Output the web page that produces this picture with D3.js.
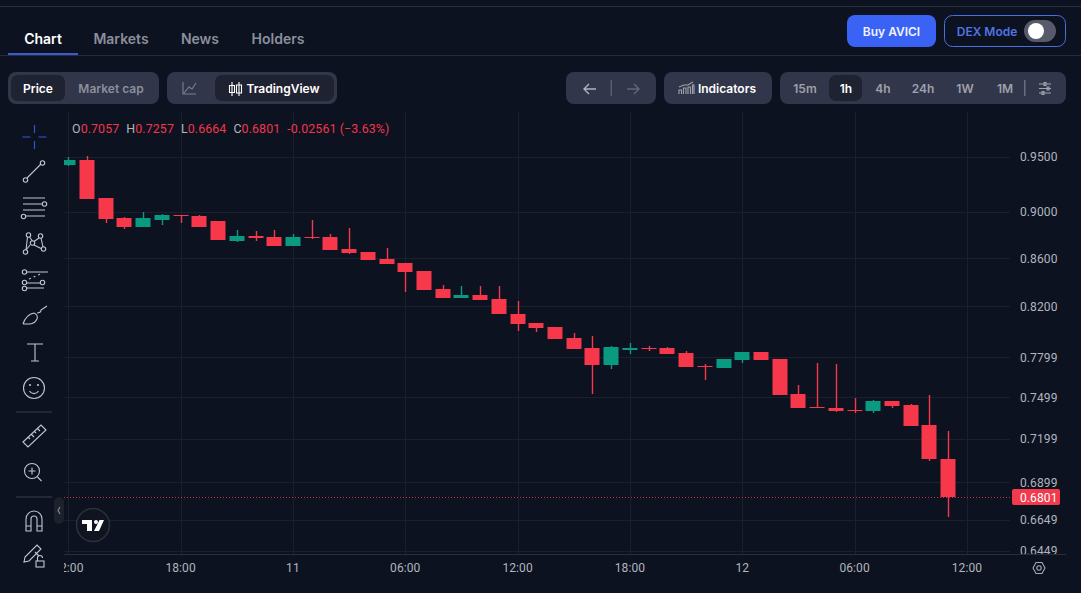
<!DOCTYPE html>
<html><head><meta charset="utf-8">
<script src="https://cdn.jsdelivr.net/npm/d3@7/dist/d3.min.js"></script>
<style>
html,body{margin:0;padding:0;background:#0c1220;overflow:hidden}
svg{display:block}
text{font-family:Inter,"Noto Sans",sans-serif}
.ax{font-family:Roboto,"Liberation Sans",sans-serif;font-size:12px;fill:#b2b5be;letter-spacing:.1px}
.ic{fill:none;stroke:#c3c6cf;stroke-width:1.1}
</style></head><body>
<svg id="c" width="1081" height="593"></svg>
<script>
const hours=d3.range(48);
const opens=[.9426,.9472,.9125,.8947,.8868,.8929,.8973,.8964,.8920,.8747,.8790,.8781,.8704,.8781,.8781,.8678,.8653,.8594,.8560,.8493,.8344,.8271,.8296,.8263,.8143,.8071,.8038,.7952,.7874,.7744,.7858,.7874,.7874,.7835,.7736,.7721,.7782,.7843,.7789,.7526,.7431,.7424,.7409,.7402,.7475,.7446,.7301,.7057];
const highs=[.9497,.9512,.9125,.8955,.8994,.8982,.8973,.8973,.8920,.8842,.8833,.8842,.8807,.8929,.8807,.8859,.8653,.8687,.8560,.8493,.8377,.8369,.8369,.8369,.8247,.8071,.8038,.7990,.7967,.7889,.7913,.7889,.7882,.7851,.7751,.7789,.7843,.7843,.7789,.7593,.7759,.7751,.7497,.7482,.7475,.7453,.7519,.7257];
const lows=[.9416,.9116,.8903,.8850,.8868,.8885,.8903,.8868,.8755,.8738,.8747,.8704,.8704,.8764,.8670,.8636,.8585,.8552,.8320,.8336,.8271,.8271,.8255,.8143,.8006,.7998,.7944,.7866,.7526,.7713,.7828,.7851,.7828,.7729,.7630,.7721,.7759,.7782,.7519,.7424,.7424,.7395,.7388,.7388,.7424,.7294,.7043,.6664];
const closes=[.9472,.9116,.8938,.8868,.8947,.8973,.8964,.8868,.8755,.8790,.8772,.8704,.8781,.8772,.8670,.8644,.8585,.8552,.8485,.8336,.8271,.8296,.8255,.8143,.8061,.8030,.7944,.7866,.7744,.7882,.7874,.7866,.7828,.7729,.7729,.7789,.7843,.7782,.7519,.7424,.7424,.7402,.7402,.7475,.7439,.7294,.7057,.6801];
const priceTicks=[.95,.9,.86,.82,.7799,.7499,.7199,.6899,.6649,.6449];
const timeTicks=[0,6,12,18,24,30,36,42,48];
const timeLabels=["12:00","18:00","11","06:00","12:00","18:00","12","06:00","12:00"];
const tabs=["Chart","Markets","News","Holders"];
const tabX=[43,121,200,278];
const ranges=["15m","1h","4h","24h","1W","1M"];
const rangeX=[805,846,883,923,965,1005];

const RED="#f6384a",GREEN="#0a9a82",GRID="#1a202c",MUTED="#8b8f9c",PANEL="#32364a",ACTIVE="#1f2230";
const svg=d3.select("#c");
svg.append("rect").attr("width",1081).attr("height",593).attr("fill","#0c1220");
const x=d3.scaleLinear().domain([0,48]).range([68.3,966.9]);
const y=d3.scaleLog().domain([.6449,.95]).range([550.8,156.8]);
const px=v=>Math.round(x(v))+.5;
const py=v=>Math.round(y(v));
const defs=svg.append("defs");
defs.append("clipPath").attr("id","plot").append("rect").attr("x",64).attr("y",112).attr("width",946).attr("height",442);
defs.append("clipPath").attr("id","tax").append("rect").attr("x",64).attr("y",555).attr("width",946).attr("height",30);
defs.append("clipPath").attr("id","pax").append("rect").attr("x",1010).attr("y",112).attr("width",71).attr("height",442);

// header
const rule=(y0,c)=>svg.append("rect").attr("x",0).attr("y",y0).attr("width",1081).attr("height",1).attr("fill",c);
rule(6,"#2a3040");rule(55,"#262c3a");
svg.append("rect").attr("x",8).attr("y",53).attr("width",70).attr("height",2).attr("fill","#3a5bd0");
svg.append("g").selectAll("text").data(tabs).join("text").attr("x",(d,i)=>tabX[i]).attr("y",44).attr("text-anchor","middle")
 .attr("font-size",14).attr("font-weight",600).attr("fill",(d,i)=>i?MUTED:"#fff").text(d=>d);
const box=(x0,y0,w,h,f,r=8)=>svg.append("rect").attr("x",x0).attr("y",y0).attr("width",w).attr("height",h).attr("rx",r).attr("fill",f);
const label=(s,xx,yy,c,sz=12,w=600,a="middle")=>svg.append("text").attr("x",xx).attr("y",yy).attr("text-anchor",a).attr("font-size",sz).attr("font-weight",w).attr("fill",c).text(s);
box(847,15,89,32,"#3a63f5");label("Buy AVICI",891.5,35.5,"#f2f4ff");
svg.append("rect").attr("x",944.5).attr("y",15.5).attr("width",121).attr("height",31).attr("rx",8).attr("fill","none").attr("stroke","#4a6fe0");
label("DEX Mode",987,35.5,"#4f74e6");
box(1024,20,32,22,"#565a6a",11);svg.append("circle").attr("cx",1036).attr("cy",31).attr("r",8).attr("fill","#fff");

box(8,72,151,32,PANEL);box(11,75,54,26,ACTIVE,7);label("Price",38,93,"#fff");label("Market cap",111,93,MUTED);
box(167,72,170,32,PANEL);box(215,75,119,26,ACTIVE,7);label("TradingView",283,93,"#fff");
svg.append("path").attr("class","ic").style("stroke","#7d8190").attr("d","M183 82v12h13M184 93l5-6 3 2 4-6");
svg.append("path").attr("class","ic").style("stroke","#fff").attr("d","M232 82v14M239 82v14M229.5 85.5h5v7h-5zM236.5 85h5v8h-5z");
box(566,72,90,32,PANEL);
svg.append("path").attr("class","ic").style("stroke","#b0b3bd").style("stroke-width",1.4).attr("d","M596 89h-12M589 84l-5 5 5 5");
svg.append("path").attr("class","ic").style("stroke","#62667a").style("stroke-width",1.4).attr("d","M627 89h12M634 84l5 5-5 5");
svg.append("rect").attr("x",610.5).attr("y",80).attr("width",1.5).attr("height",16).attr("fill","#585c6e");
box(664,72,108,32,PANEL);label("Indicators",727,93,"#fff");
svg.append("path").attr("class","ic").style("stroke","#a0a3ae").attr("d","M679 94v-4h2.5v4M683.5 94v-6h2.5v6M688 94v-7h2.5v7M692.5 94v-9h1.5v9M679 87l5-2 4 0 5-3");
box(780,72,286,32,PANEL);box(829,75,33,26,ACTIVE,7);
svg.append("g").selectAll("text").data(ranges).join("text").attr("x",(d,i)=>rangeX[i]).attr("y",93).attr("text-anchor","middle")
 .attr("font-size",12).attr("font-weight",600).attr("fill",d=>d==="1h"?"#fff":"#9ea1ac").text(d=>d);
svg.append("rect").attr("x",1024).attr("y",80).attr("width",1.5).attr("height",16).attr("fill","#6a6e80");
svg.append("path").attr("class","ic").style("stroke","#a0a3ae").attr("d","M1039 84h12M1039 88.5h12M1039 93h12M1044 82.5h2v3h-2zM1047 87h2v3h-2zM1042 91.5h2v3h-2z");

// grid
const grid=svg.append("g").attr("clip-path","url(#plot)");
grid.selectAll(".v").data(timeTicks).join("rect").attr("x",d=>Math.round(x(d))).attr("y",112).attr("width",1).attr("height",442).attr("fill",GRID);
grid.selectAll(".h").data(priceTicks).join("rect").attr("x",64).attr("y",d=>py(d)).attr("width",946).attr("height",1).attr("fill",GRID);
svg.append("rect").attr("x",64).attr("y",554).attr("width",1002).attr("height",1).attr("fill","#282e3c");

// last price line
const last=closes[closes.length-1];
svg.append("line").attr("x1",64).attr("x2",1010).attr("y1",py(last)+.5).attr("y2",py(last)+.5).attr("stroke",RED).attr("stroke-dasharray","1 2").attr("opacity",.8);

// candles
const rows=hours.map((h,i)=>({h,o:opens[i],hi:highs[i],l:lows[i],c:closes[i]}));
const col=d=>d.c>=d.o?GREEN:RED;
const marks=grid.selectAll("g.k").data(rows).join("g").attr("class","k");
marks.append("rect").attr("x",d=>px(d.h)-.7).attr("width",1.4).attr("y",d=>py(d.hi)).attr("height",d=>Math.max(1,py(d.l)-py(d.hi))).attr("fill",col);
marks.append("rect").attr("x",d=>px(d.h)-8).attr("width",15).attr("y",d=>py(Math.max(d.o,d.c))).attr("height",d=>Math.max(1,py(Math.min(d.o,d.c))-py(Math.max(d.o,d.c)))).attr("fill",col);

// axes
svg.append("g").attr("clip-path","url(#tax)").selectAll("text").data(timeTicks).join("text").attr("class","ax")
 .attr("x",d=>x(d)).attr("y",572).attr("text-anchor","middle").text((d,i)=>timeLabels[i]);
svg.append("g").attr("clip-path","url(#pax)").selectAll("text").data(priceTicks).join("text").attr("class","ax")
 .attr("x",1020).attr("y",d=>y(d)+4.5).text(d=>d3.format(".4f")(d));
svg.append("rect").attr("x",1012).attr("y",py(last)-8).attr("width",48).attr("height",16).attr("rx",2).attr("fill","#f23a4c");
svg.append("text").attr("class","ax").style("fill","#fff").attr("x",1020).attr("y",py(last)+4.5).text(d3.format(".4f")(last));

// legend
const f4=d3.format(".4f"),n=closes.length-1;
const legend=[["O",opens[n]],["H",highs[n]],["L",lows[n]],["C",closes[n]]];
const lg=svg.append("text").attr("class","ax").style("font-size","12.4px").attr("x",72).attr("y",133);
legend.forEach(([k,v],i)=>{
 lg.append("tspan").attr("dx",i?7:0).style("fill","#b2b5be").text(k);
 lg.append("tspan").style("fill","#f2364a").text(f4(v));
});
lg.append("tspan").attr("dx",7).style("fill","#f2364a").text("-0.02561 (−3.63%)");

// toolbar
const P=(d,s)=>{const p=svg.append("path").attr("class","ic").attr("d",d);if(s)p.style("stroke",s);return p;};
const C=(cx,cy,r=2.2)=>svg.append("circle").attr("class","ic").attr("cx",cx).attr("cy",cy).attr("r",r);
P("M34.5 125v8M34.5 141v8M22.5 137h8M38.5 137h8","#3358e0");
P("M27 178l14-14");C(25.5,180);C(42.5,163);
P("M23 198h22M23 204h19M23 210h22M26 216h19");C(44.5,204);C(23.5,216.5);
P("M27.5 237l-1.5 13M29.5 237l3 4M30 245l-4 5M39 238l-5 3.5M41 238l2 9M34 245l7 3.5");C(28.5,235);C(40.5,236);C(32.5,243);C(25.5,252);C(43.5,249);
P("M27 272h21M27 283h13M27 288h17");P("M29 279l14-6","#c3c6cf").attr("stroke-dasharray","2 3");C(24.5,272);C(24.5,282.5);C(42.5,282.5);C(24.5,288.5);
P("M23 324c2-6 6-10 11-11 3 1 4 4 3 6-2 4-5 5-8 5h-6M37 313c2 0 4-1 4-3l6-4");
P("M27 344h16M35 344v17M31 361h8");
C(34,388,10.5);C(30,385,.5);C(38,385,.5);P("M29.5 391c2 3.5 7 3.5 9 0");
P("M16 412h36","#3a3f4c");P("M16 497h36","#3a3f4c");
P("M23 442l18-17 5 5-18 17zM28 437l2 2M31 434l3 3M34 431l2 2M37 428l3 3");
C(32,471,7.5);P("M32 467.5v7M28.5 471h7M37.5 477l4 4");
P("M26 531v-12a8 8 0 0 1 16 0v12h-5v-12a3 3 0 0 0-6 0v12zM26 526h5M37 526h5");
P("M24 562l1-5 12-12 4 4-12 12zM35 552l4 4");svg.append("rect").attr("class","ic").attr("x",36).attr("y",561).attr("width",8).attr("height",6);P("M37.5 561v-3a2.5 2.5 0 0 1 5 0");

// collapse pill + logo
box(54,497,10,27,"#1c212c",5);P("M60 507l-2 3.5 2 3.5","#8b8f9c");
svg.append("circle").attr("cx",93).attr("cy",525).attr("r",16.5).attr("fill","#0f1420").attr("stroke","#2d313c").attr("stroke-width",1.5);
svg.append("path").attr("fill","#fff").attr("d","M82 520h10v11h-5v-7h-5zM99.5 520h4.5l-5 11h-5z");
svg.append("circle").attr("cx",96).attr("cy",522).attr("r",2).attr("fill","#fff");

// hex gear
P("M1033 568l3-5.5h6l3 5.5-3 5.5h-6z","#a7aab4");svg.append("circle").attr("class","ic").style("stroke","#a7aab4").attr("cx",1039).attr("cy",568).attr("r",2.2);
</script></body></html>
